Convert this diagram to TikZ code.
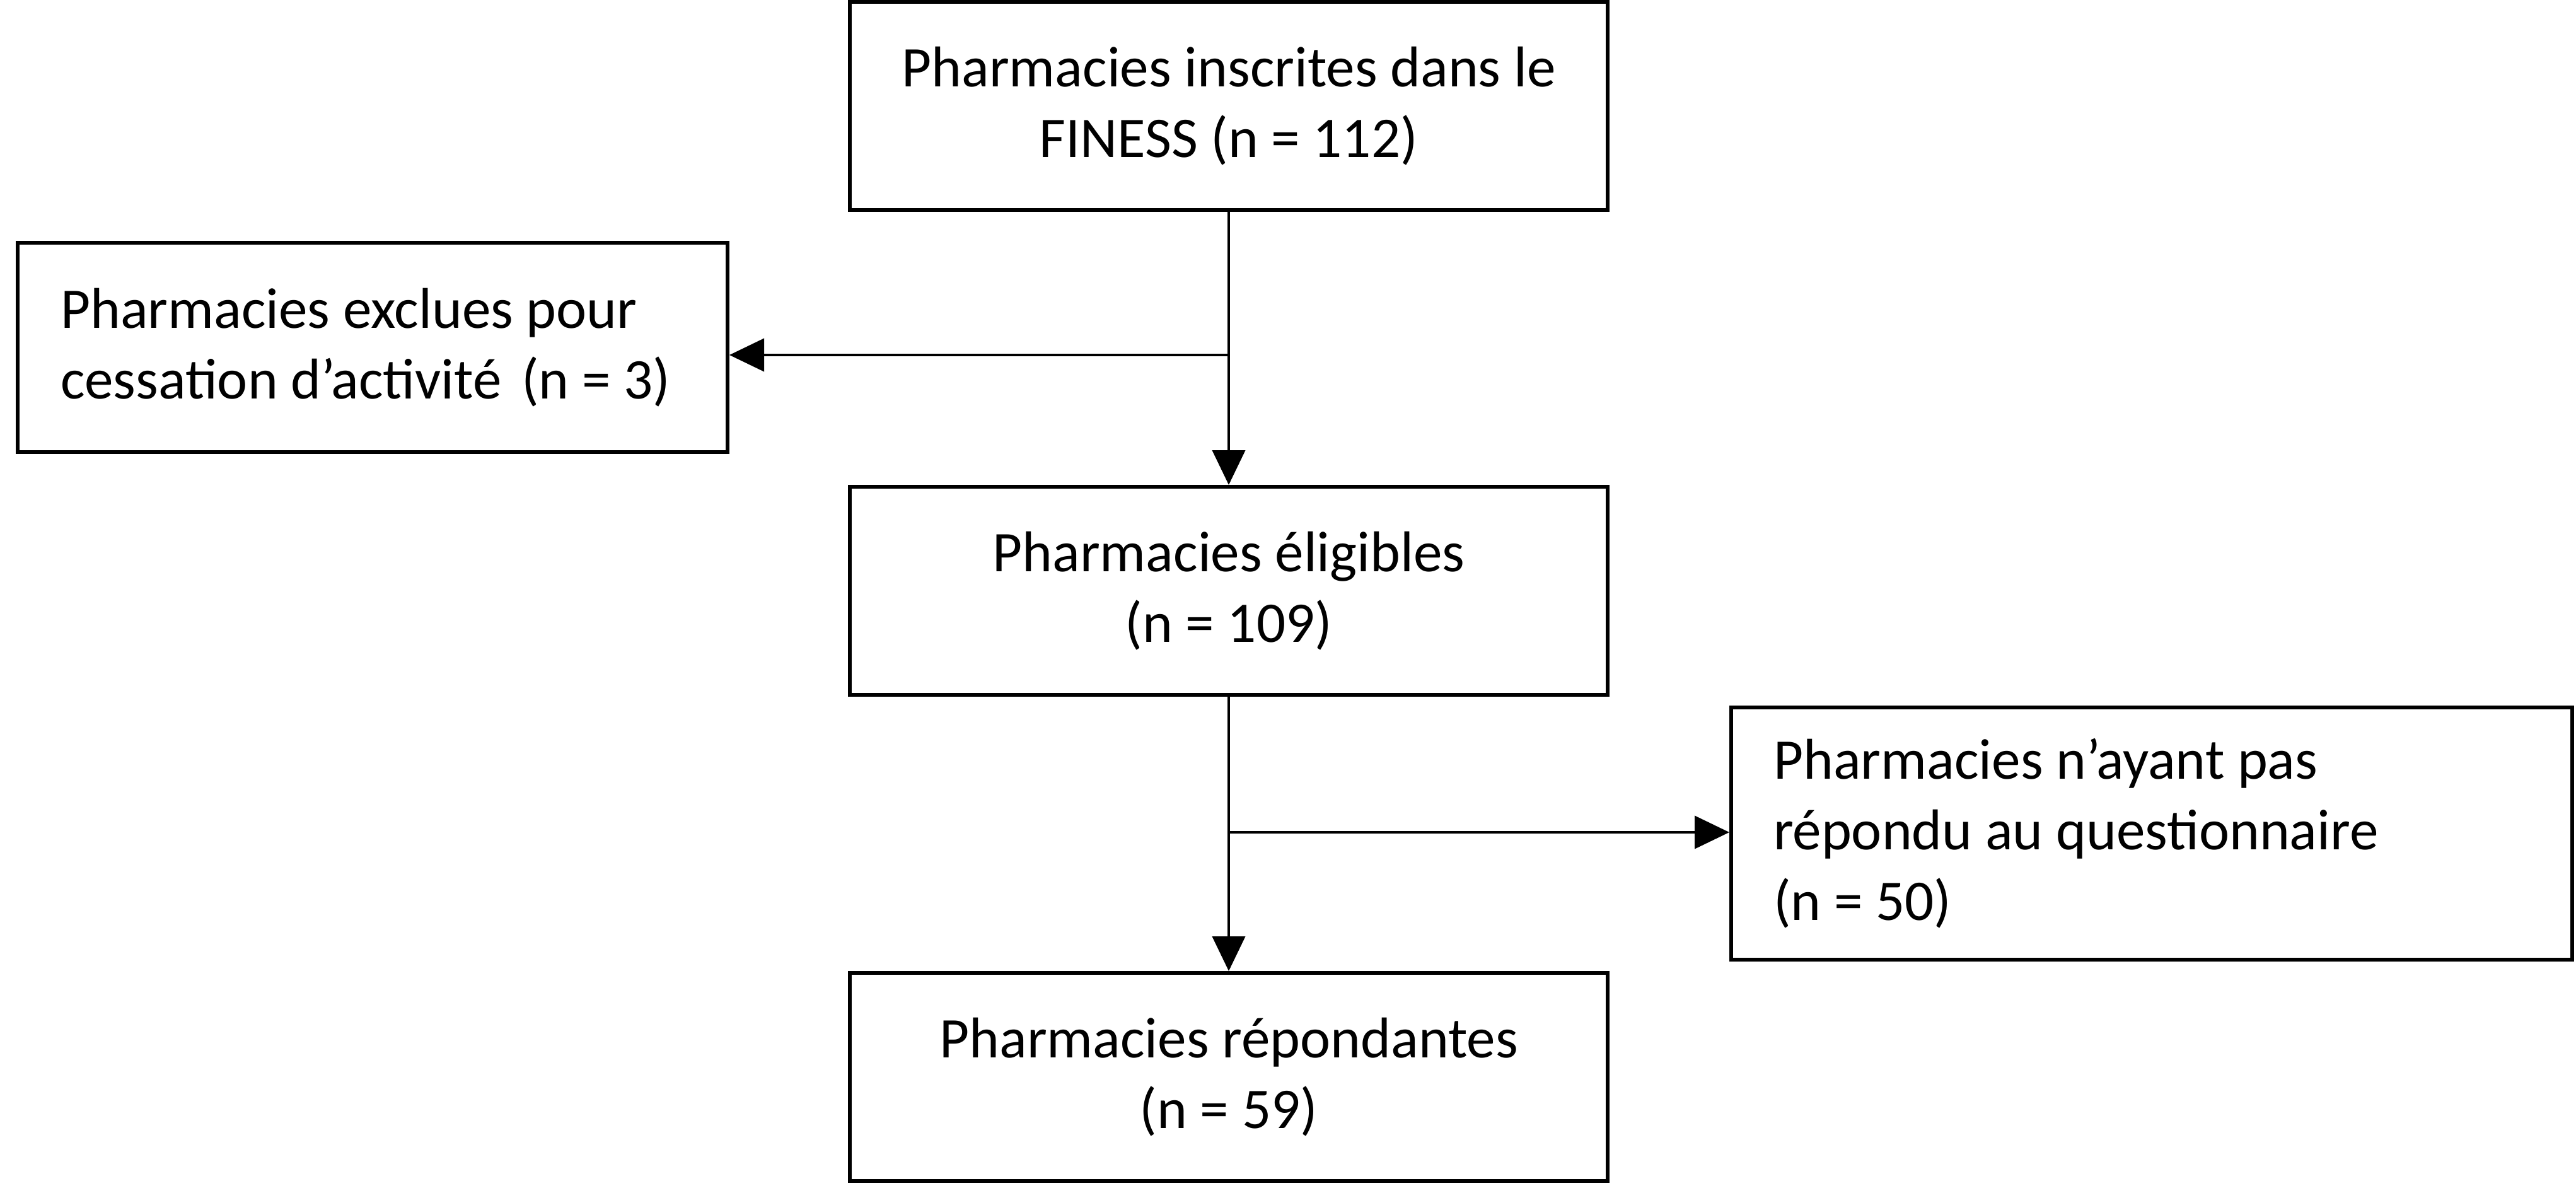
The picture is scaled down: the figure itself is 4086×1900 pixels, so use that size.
\documentclass[tikz,border=0pt]{standalone}
\usepackage{fontspec}
\setmainfont{Carlito}
\usetikzlibrary{arrows.meta}
\begin{document}
\begin{tikzpicture}[x=0.5pt,y=-0.5pt,
  box/.style={draw=black, line width=3pt, rectangle, inner ysep=0pt,
    font=\fontsize{45.6}{56}\selectfont},
  cbox/.style={box, minimum width=601pt, minimum height=165pt, align=center, inner xsep=0pt},
  conn/.style={line width=2pt, -{Triangle[length=27.5pt,width=26pt]}}]
\useasboundingbox (0,0) rectangle (4086,1900);
\node[cbox] (top) at (1949,168) {Pharmacies inscrites dans le\\FINESS (n = 112)};
\node[box, minimum height=166pt, inner xsep=34pt, text width=495pt, align=flush left] (excl) at (591,551)
  {Pharmacies exclues pour\\cessation d’activité\hspace{0.12em} (n = 3)};
\node[cbox] (elig) at (1949,937) {Pharmacies éligibles\\(n = 109)};
\node[box, minimum height=200pt, inner xsep=33.5pt, text width=600pt, align=flush left] (nonrep) at (3413,1322)
  {Pharmacies n’ayant pas\\répondu au questionnaire\\(n = 50)};
\node[cbox] (rep) at (1949,1708) {Pharmacies répondantes\\(n = 59)};
\coordinate (b1) at (1949,563);
\coordinate (b2) at (1949,1320);
\draw[conn] (top.south) -- (elig.north);
\draw[conn] (b1) -- (b1 -| excl.east);
\draw[conn] (elig.south) -- (rep.north);
\draw[conn] (b2) -- (b2 -| nonrep.west);
\end{tikzpicture}
\end{document}
